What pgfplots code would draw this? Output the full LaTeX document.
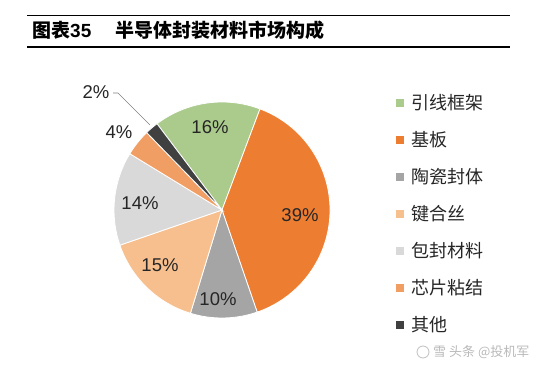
\documentclass[border=0pt]{standalone}
\usepackage{pgfplots}
\usepackage{pgfplotstable}
\pgfplotsset{compat=1.18}
\usepackage{fontspec}
\setmainfont{Liberation Sans}
\newfontfamily\cjk{Noto Sans CJK SC}
\definecolor{c0}{HTML}{ABCB8D}
\definecolor{c1}{HTML}{ED7D31}
\definecolor{c2}{HTML}{A5A5A5}
\definecolor{c3}{HTML}{F7BF8E}
\definecolor{c4}{HTML}{D9D9D9}
\definecolor{c5}{HTML}{F19E64}
\definecolor{c6}{HTML}{404040}
\definecolor{txt}{HTML}{262626}
\pgfplotstableread{
share
16
39
10
15
14
4
2
}\piedata
\begin{document}
\begin{tikzpicture}
\path[use as bounding box] (0,0) rectangle (546pt,366pt);
\draw[line width=0.8pt] (27pt,351pt) -- (510pt,351pt);
\draw[line width=2pt] (27pt,319pt) -- (510pt,319pt);
\node[anchor=base west, inner sep=0] at (32pt,328pt) {\fontsize{19}{20}\selectfont\bfseries{\cjk 图表}35};
\node[anchor=base west, inner sep=0] at (115pt,328pt) {\fontsize{19}{20}\selectfont\bfseries\cjk 半导体封装材料市场构成};
\begin{axis}[x=1pt,y=1pt,xmin=-111,xmax=111,ymin=-111,ymax=111,
  hide axis,clip=false,at={(222pt,156pt)},anchor=center]
\gdef\angA{127}
\pgfplotsforeachungrouped \i in {0,...,6}{%
  \pgfplotstablegetelem{\i}{share}\of\piedata
  \pgfmathsetmacro\angB{\angA-3.6*\pgfplotsretval}%
  \edef\cmd{\noexpand\fill[c\i,draw=white,line width=0.8pt] (axis cs:0,0) -- (axis cs:{108*cos(\angA)},{108*sin(\angA)}) arc[start angle=\angA,end angle=\angB,radius=108pt] -- cycle;}%
  \cmd
  \xdef\angA{\angB}%
}
\draw[gray, line width=0.6pt] (axis cs:-109,117) -- (axis cs:-104,117) -- (axis cs:-72,85);
\begin{scope}[every node/.style={text=txt,font=\fontsize{18.5}{18.5}\selectfont}]
\node at (axis cs:-12,83) {16\%};
\node at (axis cs:78,-5) {39\%};
\node at (axis cs:-4,-89) {10\%};
\node at (axis cs:-62,-55) {15\%};
\node at (axis cs:-82,7) {14\%};
\node at (axis cs:-103,78) {4\%};
\node at (axis cs:-126,118) {2\%};
\end{scope}
\end{axis}
% legend
\foreach \n/\lab [count=\k from 0] in {0/引线框架,1/基板,2/陶瓷封体,3/键合丝,4/包封材料,5/芯片粘结,6/其他}{
  \pgfmathsetmacro\yy{263-37*\k}
  \fill[c\n] (396pt,\yy pt-4pt) rectangle (404pt,\yy pt+4pt);
  \node[anchor=west,inner sep=0,text=txt,font=\fontsize{18}{18}\selectfont\cjk] at (411pt,\yy pt) {\lab};
}
% watermark
\draw[gray!50, line width=0.8pt] (423pt,14pt) circle (6pt);
\node[anchor=west,inner sep=0,text=gray!55,font=\fontsize{13}{13}\selectfont\cjk] at (433pt,14pt) {雪 头条 @投机军};
\end{tikzpicture}
\end{document}
